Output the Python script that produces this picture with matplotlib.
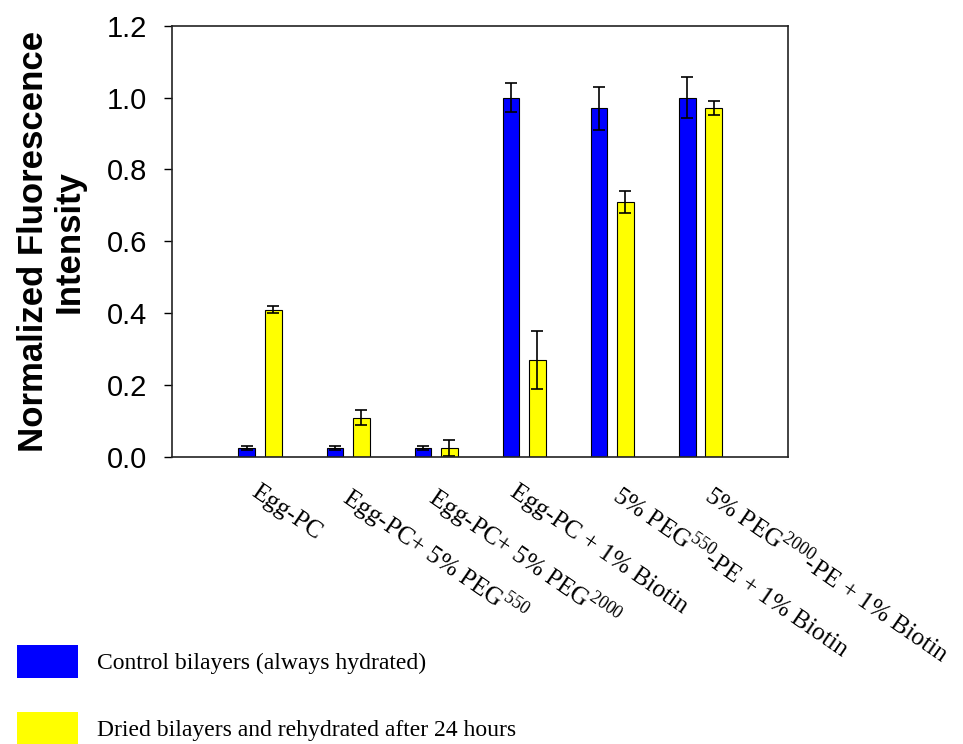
import matplotlib
matplotlib.use("Agg")
import matplotlib.pyplot as plt
import matplotlib.patches as mpatches
import matplotlib.transforms as mtransforms
import numpy as np

plt.rcParams['mathtext.fontset'] = 'custom'
plt.rcParams['mathtext.rm'] = 'Liberation Serif'

categories = [
    "Egg-PC",
    "Egg-PC+ 5% PEG$^{550}$",
    "Egg-PC+ 5% PEG$^{2000}$",
    "Egg-PC + 1% Biotin",
    "5% PEG$^{550}\\!$-PE + 1% Biotin",
    "5% PEG$^{2000}\\!$-PE + 1% Biotin",
]
control = [0.025, 0.025, 0.025, 1.00, 0.97, 1.00]
control_err = [0.005, 0.005, 0.006, 0.04, 0.06, 0.056]
dried = [0.41, 0.11, 0.025, 0.27, 0.71, 0.97]
dried_err = [0.01, 0.02, 0.022, 0.08, 0.03, 0.02]
series_labels = ["Control bilayers (always hydrated)",
                 "Dried bilayers and rehydrated after 24 hours"]
yticks = [0.0, 0.2, 0.4, 0.6, 0.8, 1.0, 1.2]

fig = plt.figure(figsize=(9.63, 7.44), dpi=100)
ax = fig.add_axes([0.1786, 0.3856, 0.6401, 0.580])

x = np.arange(len(categories))
w = 0.19
off = 0.15
ekw = dict(ecolor='black', elinewidth=1.2, capsize=4.5, capthick=1.2)
ax.bar(x - off, control, w, color='#0000ff', edgecolor='black', linewidth=0.8,
       yerr=control_err, error_kw=ekw, zorder=2)
ax.bar(x + off, dried, w, color='#ffff00', edgecolor='black', linewidth=0.8,
       yerr=dried_err, error_kw=ekw, zorder=2)

ax.set_xlim(-1, 6)
ax.set_ylim(0, 1.2)
ax.set_yticks(yticks)
ax.set_yticklabels([f"{t:.1f}" for t in yticks], fontsize=21, family='Liberation Sans')
ax.tick_params(axis='y', direction='out', length=6, width=1, pad=12)
ax.tick_params(axis='x', length=0, pad=17)
ax.set_xticks(x)
ax.set_xticklabels(categories, rotation=-34.5, ha='left', va='top',
                   rotation_mode='anchor', fontsize=18.2, family='Liberation Serif')
# small horizontal nudges (points) to match the label placement of the original
nudges = [0, 5, 3, -4, 8, 11]
for lbl, dx in zip(ax.get_xticklabels(), nudges):
    lbl.set_transform(lbl.get_transform() +
                      mtransforms.ScaledTranslation(dx / 72, 0, fig.dpi_scale_trans))
for sp in ax.spines.values():
    sp.set_linewidth(1.2)
    sp.set_color('#222222')

ax.set_ylabel("Normalized Fluorescence\nIntensity", fontsize=25, fontweight='bold',
              family='Liberation Sans', linespacing=1.1, labelpad=15)

handles = [mpatches.Patch(facecolor='#0000ff', edgecolor='none'),
           mpatches.Patch(facecolor='#ffff00', edgecolor='none')]
fig.legend(handles, series_labels, loc='upper left', bbox_to_anchor=(0.0104, 0.142),
           frameon=False, prop={'family': 'Liberation Serif', 'size': 17},
           handlelength=2.58, handleheight=1.74, handletextpad=0.8,
           labelspacing=1.44, borderpad=0.3, borderaxespad=0)

fig.savefig("out.png", dpi=100)
